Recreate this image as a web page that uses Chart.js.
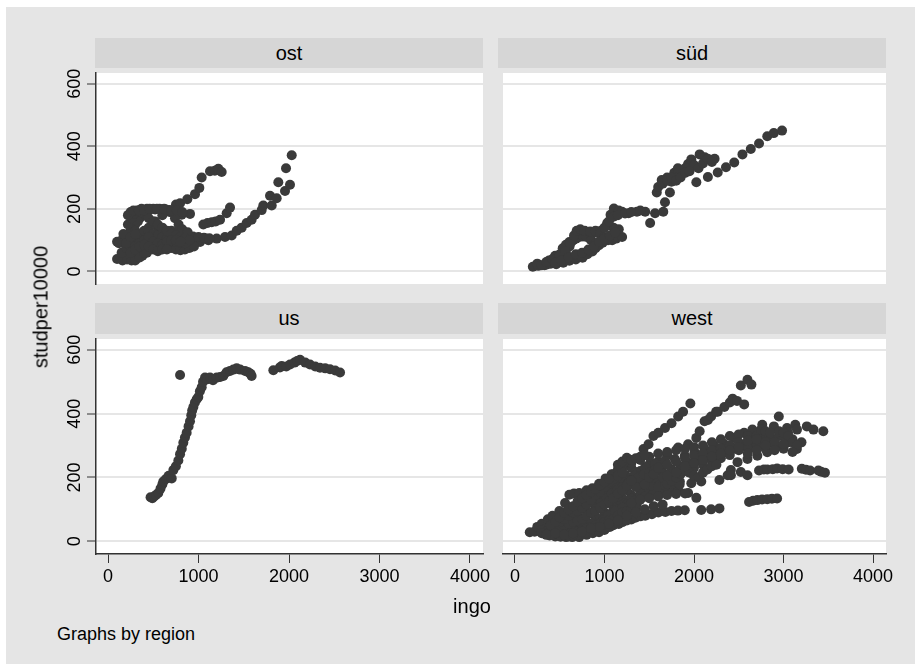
<!DOCTYPE html>
<html>
<head>
<meta charset="utf-8">
<script src="https://cdn.jsdelivr.net/npm/chart.js@4.4.0/dist/chart.umd.min.js"></script>
<style>
  body { margin: 0; width: 915px; height: 664px; background: #fff; position: relative; overflow: hidden;
         font-family: "Liberation Sans", Arial, Helvetica, sans-serif; color: #000; }
  #frame { position: absolute; left: 6px; top: 7px; width: 909px; height: 657px; background: #e5e5e5; }
  .head { position: absolute; width: 388px; background: #d6d6d6; text-align: center; font-size: 20px; }
  canvas { position: absolute; }
  .lbl { position: absolute; white-space: nowrap; }
</style>
</head>
<body>
<div id="frame"></div>

<div class="head" style="left:95px; top:38px; height:30px; line-height:30px;">ost</div>
<div class="head" style="left:498px; top:38px; height:30px; line-height:30px;">süd</div>
<div class="head" style="left:95px; top:303px; height:31px; line-height:31px;">us</div>
<div class="head" style="left:498px; top:303px; height:31px; line-height:31px;">west</div>

<canvas id="c_ost" width="449" height="221" style="left:46px; top:68px;"></canvas>
<canvas id="c_sued" width="410" height="221" style="left:498px; top:68px;"></canvas>
<canvas id="c_us" width="449" height="266" style="left:46px; top:334px;"></canvas>
<canvas id="c_west" width="410" height="266" style="left:498px; top:334px;"></canvas>

<div class="lbl" style="left:41px; top:307px; font-size:20px; transform: translate(-50%, -50%) rotate(-90deg);">studper10000</div>
<div class="lbl" style="left:472px; top:606px; font-size:20px; transform: translate(-50%, -50%);">ingo</div>
<div class="lbl" style="left:57px; top:634px; font-size:18px; transform: translateY(-50%);">Graphs by region</div>

<script>
// axis setup shared by all four panels
const xTicks = [0, 1000, 2000, 3000, 4000];
const yTicks = [0, 200, 400, 600];
const xRange = [-133, 4144];
const yRange = [-40, 634];

// [ingo, studper10000] pairs per region
const ostPoints = [
  [150,40],[200,50],[250,55],[300,60],[350,65],[400,68],[450,72],[500,75],[560,78],[620,80],[700,82],[780,84],
  [832,84],[925,89],[1017,94],[1109,100],[1201,105],[1293,110],[1367,115],[1422,130],[1477,140],[1532,155],
  [1587,165],[1624,181],[1698,196],[1716,211],[1790,242],[1809,211],[1864,234],[1882,285],[1956,257],[1967,330],
  [2011,277],[2030,371],
  [100,95],[150,100],[200,110],[250,130],[300,150],[350,170],[400,185],[450,195],[520,198],[600,198],[680,196],
  [751,214],[796,218],[876,231],[961,247],[1009,267],[1035,300],[1127,320],[1180,322],[1219,328],[1256,318],
  [200,60],[260,80],[320,100],[380,120],[450,140],[520,160],[600,180],[680,190],[750,180],[814,181],[906,184],
  [1053,150],[1100,155],[1146,157],[1190,160],[1238,165],[1311,186],[1348,204],
  [180,45],[230,70],[270,100],[300,130],[330,160],[360,190],[450,170],[500,150],[560,130],[620,120],[700,110],
  [780,105],[860,100],[940,98],[1000,100],[1080,105],
  [100,40],[160,35],[210,38],[260,35],[320,42],[380,50],[430,60],[480,80],[530,100],[580,115],[640,125],
  [700,130],[760,125],[820,120],[880,115],[940,112],[1000,110],[1060,108],[1120,106],
  [300,35],[350,45],[400,60],[450,90],[500,110],[550,120],[600,100],[650,85],[700,75],[750,70],[800,68],
  [850,70],[900,75],[950,80],
  [120,90],[170,120],[220,150],[260,170],[290,185],[320,195],[370,200],[430,200],[500,200],[570,200],[640,198],
  [700,190],[740,170],[780,150],[820,135],[880,125],
  [150,60],[200,75],[250,90],[300,110],[350,120],[400,130],[450,125],[500,120],[550,115],[600,110],[650,105],
  [700,100],[750,95],[800,92],[850,90],
  [200,90],[250,110],[300,120],[500,160],[550,150],[600,140],[650,130],[700,120],[750,115],[800,110],
  [850,105],[900,100],
  [300,80],[350,90],[400,100],[450,110],[500,95],[550,90],[600,85],[650,95],[700,100],[750,100],[800,95],
  [250,60],[300,70],[350,80],[400,85],[450,80],[500,70],[550,65],[600,70],[650,70],
  [220,180],[250,190],[280,195],[340,195],[400,195],[460,200],[540,200],[620,200],[700,195],[760,195],[820,190]
];

const suedPoints = [
  [200,15],[260,18],[330,20],[400,25],[461,30],[520,45],[570,60],[610,80],[650,100],[682,110],[720,118],
  [792,118],[860,120],[903,125],[960,130],[1030,150],[1068,181],[1105,201],[1160,195],[1197,191],[1270,186],
  [1362,191],[1455,191],[1510,155],[1565,186],[1657,191],[1676,221],[1731,252],[1749,287],[1860,313],
  [1934,343],[1970,358],[2063,374],[2120,365],[2173,358],[2230,360],
  [2026,285],[2155,302],[2265,316],[2357,333],[2449,348],[2541,374],[2634,391],[2726,409],[2818,432],
  [2891,442],[2983,450],
  [250,25],[350,22],[461,23],[540,28],[608,34],[680,38],[755,44],[810,55],[865,64],[900,74],[939,84],
  [980,92],[1040,100],[1086,100],[1130,105],[1197,110],[1160,135],[1100,140],[1031,155],
  [300,20],[380,35],[450,50],[497,54],[534,74],[570,85],[608,94],[650,100],[682,105],[720,110],[760,112],
  [800,110],[850,100],[900,90],
  [1584,252],[1639,292],[1700,300],[1780,315],[1820,330],[1900,330],[2000,340],
  [350,30],[420,40],[500,50],[560,65],[620,90],[660,115],[690,130],[730,135],[780,130],[840,128],[900,130],
  [950,120],[1000,110],[1050,105],
  [450,28],[520,35],[600,45],[680,55],[750,60],[820,70],[880,80],[940,95],[1000,105],[1060,115],[1120,125],
  [1000,140],[1050,160],[1100,175],[1150,180],[1230,185],[1300,190],[1400,195],
  [1600,270],[1650,280],[1700,290],[1750,300],[1800,290],[1850,300],[1900,315],[1950,320],[2050,330],
  [2100,345],[2150,360],[2200,350]
];

const usPoints = [
  [470,138],[490,135],[510,140],[530,145],[556,151],[580,165],[600,178],[611,187],[640,195],[670,205],
  [704,197],[722,223],[750,235],[777,253],[796,273],[815,290],[832,309],[850,325],[869,340],[890,360],
  [906,376],[920,395],[930,410],[943,421],[960,435],[980,445],[998,452],[1015,470],[1035,483],[1050,500],
  [1072,513],[1100,508],[1127,513],[1160,505],[1201,513],[1240,515],[1274,518],[1310,530],[1348,534],
  [1385,538],[1422,542],[1460,538],[1514,534],[1550,530],[1575,525],[1587,518],[796,521],
  [1827,536],[1900,545],[1919,549],[1970,548],[2011,554],[2060,560],[2090,565],[2122,569],[2180,560],
  [2232,554],[2290,548],[2343,544],[2400,542],[2453,539],[2510,535],[2564,529]
];

const westPoints = [
  [900,130],[1000,160],[1100,185],[1200,210],[1300,230],[1436,289],[1492,304],[1547,330],[1602,340],
  [1676,355],[1749,370],[1823,391],[1878,406],[1959,432],
  [1300,200],[1400,220],[1500,240],[1600,250],[1700,270],[1823,294],[1934,304],[2026,324],[2063,345],
  [2118,376],[2155,380],[2191,391],[2247,406],[2265,406],[2339,421],[2400,435],[2431,447],[2480,440],
  [2523,488],[2560,429],[2597,506],[2641,491],
  [1013,177],[1124,197],[1234,207],[1345,217],[1455,233],[1565,243],[1676,253],[1786,258],[1897,268],
  [2007,279],[2118,289],[2228,299],[2339,304],[2449,324],[2560,340],[2652,350],[2762,365],[2892,360],
  [3039,355],[3131,365],[3260,360],[3334,350],[3444,345],
  [1000,150],[1100,165],[1200,175],[1300,180],[1450,185],[1600,190],[1713,197],[1842,187],[1970,182],
  [2081,187],[2284,192],[2376,207],[2412,223],[2486,248],[2597,258],[2707,268],[2818,279],[2928,299],
  [3039,309],[3149,289],
  [1100,210],[1200,230],[1300,245],[1400,255],[1500,265],[1600,275],[1700,280],[1800,285],[1900,290],
  [2000,295],[2100,300],[2200,310],[2300,320],[2400,330],[2500,335],[2600,330],[2700,325],[2800,330],
  [2900,320],[3000,330],[3100,320],[3200,310],
  [2412,207],[2523,217],[2597,207],[2726,222],[2780,225],[2818,225],[2880,226],[2928,228],[2990,226],
  [3057,225],[3204,227],[3250,224],[3296,222],[3389,222],[3420,218],[3462,215],
  [2615,123],[2660,127],[2707,129],[2760,131],[2818,132],[2870,133],[2928,134],
  [2081,98],[2191,100],[2284,103],[2947,391],
  [1013,40],[1100,50],[1200,60],[1300,68],[1345,74],[1400,78],[1455,80],[1530,85],[1602,90],[1680,92],
  [1749,95],[1820,96],[1897,97],
  [1100,120],[1200,135],[1300,145],[1418,156],[1500,160],[1602,161],[1660,158],[1713,156],[1770,159],
  [1823,161],[1934,151],[2026,136],
  [166,28],[220,30],[276,39],[330,30],[387,18],[450,15],[510,14],[571,13],[640,13],[718,13],[800,20],
  [870,25],[939,28],[1000,35],[1060,45],[1160,54],[1250,65],
  [250,45],[300,55],[368,69],[420,80],[497,95],[560,120],[608,146],[660,150],[718,151],[800,160],[865,166],
  [940,180],[1013,197],[1080,210],[1150,225],[1200,240],[1250,255],
  [400,20],[500,30],[600,40],[700,50],[800,60],[900,75],[1000,90],[1100,105],[1200,120],[1300,135],[1400,150],
  [450,25],[550,28],[650,35],[750,45],[850,55],[950,70],[1050,85],[1150,100],[1250,115],[1350,128],
  [1450,140],[1550,150],
  [700,80],[780,100],[860,120],[940,140],[1020,160],[1100,175],[1180,190],[1260,200],[1340,205],
  [350,40],[420,45],[480,50],[560,35],[620,25],[700,20],[780,25],[850,35],[920,50],[980,65],[1040,80],
  [1120,95],[1200,105],[1280,110],[1360,115],
  [720,110],[800,130],[880,150],[960,165],[1040,180],[1120,190],[1200,195],[1280,190],[1360,185],
  [1440,180],[1520,175],[1600,170],[1680,175],[1760,180],[1840,178],
  [900,100],[960,120],[1020,135],[1080,150],[1140,160],[1200,170],[1260,180],[1320,190],[1380,200],
  [1440,210],[1500,215],[1560,222],[1620,228],
  [1050,120],[1150,140],[1250,160],[1350,170],[1450,178],[1550,200],[1650,215],[1750,225],[1850,235],
  [1950,245],[2050,255],[2150,265],[2250,270],[2350,280],[2450,290],[2550,300],[2650,305],[2750,310],
  [2850,315],[2950,330],[3050,340],[3150,350],
  [2700,330],[2750,350],[2800,345],[2850,340],[2950,345],[3000,340],[3050,330],[3100,310],[3150,300],
  [3100,280],[3000,290],[2900,300],[2800,290],[2700,300],[2600,290],[2500,285],[2400,270],[2300,260],
  [2200,250],[2100,240],[2000,230],
  [1500,200],[1550,210],[1650,200],[1700,180],[1750,190],[1800,200],[1850,210],[1900,220],[1950,215],
  [2000,205],[2050,200],[2100,215],[2150,225],[2200,235],[2250,240],
  [300,35],[350,30],[400,35],[450,40],[500,45],[550,50],[600,55],[650,60],[700,65],[750,70],[800,80],
  [850,90],[900,95],[950,105],[1000,115],[1050,125],[1100,135],[1150,150],[1200,160],[1250,175],[1300,190],
  [500,60],[550,70],[600,80],[650,90],[700,95],[750,105],[800,115],[850,130],[900,145],[950,155],[1000,170],
  [1050,185],[1100,195],[1150,205],[1200,215],
  [400,50],[450,60],[500,75],[550,90],[600,100],[650,110],[700,125],[750,135],[800,145],[850,155],[900,165],
  [950,175],[1000,185],[1050,195],
  [600,15],[650,20],[700,30],[750,35],[800,40],[850,45],[900,50],[950,55],[1000,60],[1050,65],[1100,70],
  [1150,80],[1200,90],[1250,95],[1300,100],[1350,105],
  [300,25],[350,20],[450,25],[550,20],[650,25],[750,30],[850,40],[950,45],[1050,55],[1150,65],[1250,80],
  [1350,90],[1450,100],[1550,110],[1650,115],
  [1300,120],[1400,130],[1500,135],[1600,140],[1700,145],[1800,148],[1900,150],
  [1150,240],[1200,250],[1250,262],[1300,255],[1350,260],[1400,265],[1450,270],
  [1600,230],[1700,240],[1800,250],[1900,260],[2000,270],[2100,275],[2200,285],[2300,290],[2400,300],
  [2500,310],[2600,315],[2700,320],[2800,310],[2900,310],[3000,305],
  [1700,205],[1800,215],[1900,235],[2000,245],[2100,255],[2200,265],[2300,275],[2400,285],[2500,295],
  [2600,275],[2700,285],[2800,300],[2900,285]
];

const dotColor = "#3a3a3a";
const axisColor = "#333333";
const tickFont = '18px "Liberation Sans", Arial, sans-serif';

// white plot region behind the markers
const plotBg = {
  id: "plotBg",
  beforeDraw(chart) {
    const { ctx, chartArea: a } = chart;
    ctx.save();
    ctx.fillStyle = "#ffffff";
    ctx.fillRect(a.left, a.top, a.right - a.left, a.bottom - a.top);
    ctx.restore();
  },
};

// tick labels drawn by hand so y labels can stand vertical like Stata's
const tickText = {
  id: "tickText",
  afterDraw(chart, args, opts) {
    const ctx = chart.ctx;
    ctx.save();
    ctx.fillStyle = "#000";
    ctx.font = tickFont;
    ctx.textAlign = "center";
    ctx.textBaseline = "middle";
    if (opts.y) {
      const s = chart.scales.y;
      s.ticks.forEach((t) => {
        ctx.save();
        ctx.translate(s.right - 21, s.getPixelForValue(t.value));
        ctx.rotate(-Math.PI / 2);
        ctx.fillText(String(t.value), 0, 0);
        ctx.restore();
      });
    }
    if (opts.x) {
      const s = chart.scales.x;
      s.ticks.forEach((t) => {
        ctx.fillText(String(t.value), s.getPixelForValue(t.value), chart.chartArea.bottom + 23);
      });
    }
    ctx.restore();
  },
};

function makePanel(id, points, leftCol, bottomRow) {
  const ctx = document.getElementById(id).getContext("2d");

  const xScale = {
    type: "linear",
    min: xRange[0],
    max: xRange[1],
    display: bottomRow,
    afterBuildTicks: (s) => { s.ticks = xTicks.map((v) => ({ value: v })); },
    ticks: { display: false },
    grid: { drawOnChartArea: false, drawTicks: true, tickLength: 9, tickColor: axisColor, tickWidth: 1 },
    border: { display: true, color: axisColor, width: 1.5 },
  };
  if (bottomRow) xScale.afterFit = (s) => { s.height = 46; };

  return new Chart(ctx, {
    type: "scatter",
    data: {
      datasets: [{
        data: points.map((p) => ({ x: p[0], y: p[1] })),
        backgroundColor: dotColor,
        borderWidth: 0,
        pointRadius: 5,
        pointHoverRadius: 5,
      }],
    },
    options: {
      responsive: false,
      animation: false,
      events: [],
      layout: { padding: { left: 0, top: 0, bottom: 0, right: leftCol ? 12 : 22 } },
      plugins: {
        legend: { display: false },
        tooltip: { enabled: false },
        tickText: { x: bottomRow, y: leftCol },
      },
      scales: {
        x: xScale,
        y: {
          type: "linear",
          min: yRange[0],
          max: yRange[1],
          afterBuildTicks: (s) => { s.ticks = yTicks.map((v) => ({ value: v })); },
          afterFit: (s) => { s.width = leftCol ? 50 : 0; },
          ticks: { display: false },
          grid: { color: "#e6e6e6", lineWidth: 2, drawTicks: leftCol, tickLength: 9, tickColor: axisColor, tickWidth: 1 },
          border: { display: leftCol, color: axisColor, width: 1.5 },
        },
      },
    },
    plugins: [plotBg, tickText],
  });
}

makePanel("c_ost", ostPoints, true, false);
makePanel("c_sued", suedPoints, false, false);
makePanel("c_us", usPoints, true, true);
makePanel("c_west", westPoints, false, true);
</script>
</body>
</html>
